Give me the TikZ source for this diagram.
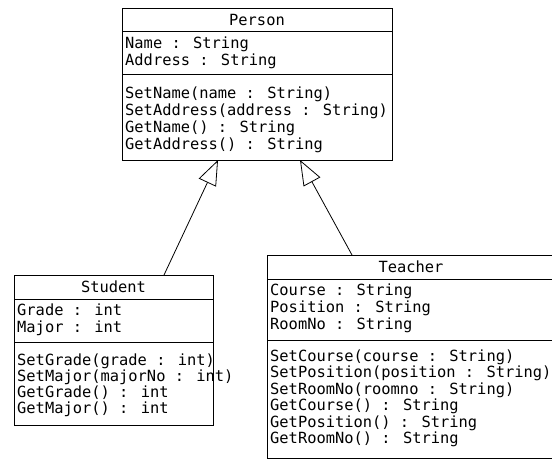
\documentclass[tikz,border=0pt]{standalone}
\usepackage{fontspec}
\newfontfamily\umlfont{DejaVu Sans Mono}
\usetikzlibrary{arrows.meta}
\begin{document}
\begin{tikzpicture}[x=1pt,y=-1pt,
  classbox/.style={draw, line width=0.9pt, fill=white, inner sep=0pt, anchor=north west},
  sepline/.style={line width=0.9pt},
  member/.style={anchor=base west, inner sep=0pt, font=\umlfont\fontsize{15.4}{17}\selectfont},
  title/.style={anchor=base, inner sep=0pt, font=\umlfont\fontsize{15.4}{17}\selectfont},
  gen/.style={line width=0.8pt, -{Triangle[open, length=25pt, width=19pt, line width=0.8pt]}}
]
\useasboundingbox (0,0) rectangle (552,461);
\fill[white] (0,0) rectangle (552,461);

% Person
\node[classbox, minimum width=270pt, minimum height=152pt] (person) at (122,8) {};
\draw[sepline] (122,31) -- (392,31);
\draw[sepline] (122,74) -- (392,74);
\node[title] (ptitle) at (257,25) {Person};
\node[member] (pa1) at (125,48) {Name : String};
\node[member] (pa2) at (125,65.5) {Address : String};
\node[member] (pm1) at (125,98) {SetName(name : String)};
\node[member] (pm2) at (125,115) {SetAddress(address : String)};
\node[member] (pm3) at (125,132) {GetName() : String};
\node[member] (pm4) at (125,149) {GetAddress() : String};

% Student
\node[classbox, minimum width=199pt, minimum height=150pt] (student) at (14,275) {};
\draw[sepline] (14,299) -- (213,299);
\draw[sepline] (14,342) -- (213,342);
\node[title] (stitle) at (113.5,292) {Student};
\node[member] (sa1) at (17,315) {Grade : int};
\node[member] (sa2) at (17,332) {Major : int};
\node[member] (sm1) at (17,365) {SetGrade(grade : int)};
\node[member] (sm2) at (17,381) {SetMajor(majorNo : int)};
\node[member] (sm3) at (17,397) {GetGrade() : int};
\node[member] (sm4) at (17,413) {GetMajor() : int};

% Teacher
\node[classbox, minimum width=292pt, minimum height=203pt] (teacher) at (267,255) {};
\draw[sepline] (267,279) -- (559,279);
\draw[sepline] (267,340) -- (559,340);
\node[title] (ttitle) at (411,272) {Teacher};
\node[member] (ta1) at (270,295) {Course : String};
\node[member] (ta2) at (270,312) {Position : String};
\node[member] (ta3) at (270,329) {RoomNo : String};
\node[member] (tm1) at (270,361) {SetCourse(course : String)};
\node[member] (tm2) at (270,377.5) {SetPosition(position : String)};
\node[member] (tm3) at (270,394) {SetRoomNo(roomno : String)};
\node[member] (tm4) at (270,410.5) {GetCourse() : String};
\node[member] (tm5) at (270,427) {GetPosition() : String};
\node[member] (tm6) at (270,443.5) {GetRoomNo() : String};

% generalisations
\coordinate (sTop) at (164,275);
\coordinate (pL) at (218,160);
\coordinate (tTop) at (352,255);
\coordinate (pR) at (300,160);
\draw[gen] (sTop) -- (pL);
\draw[gen] (tTop) -- (pR);
\end{tikzpicture}
\end{document}
